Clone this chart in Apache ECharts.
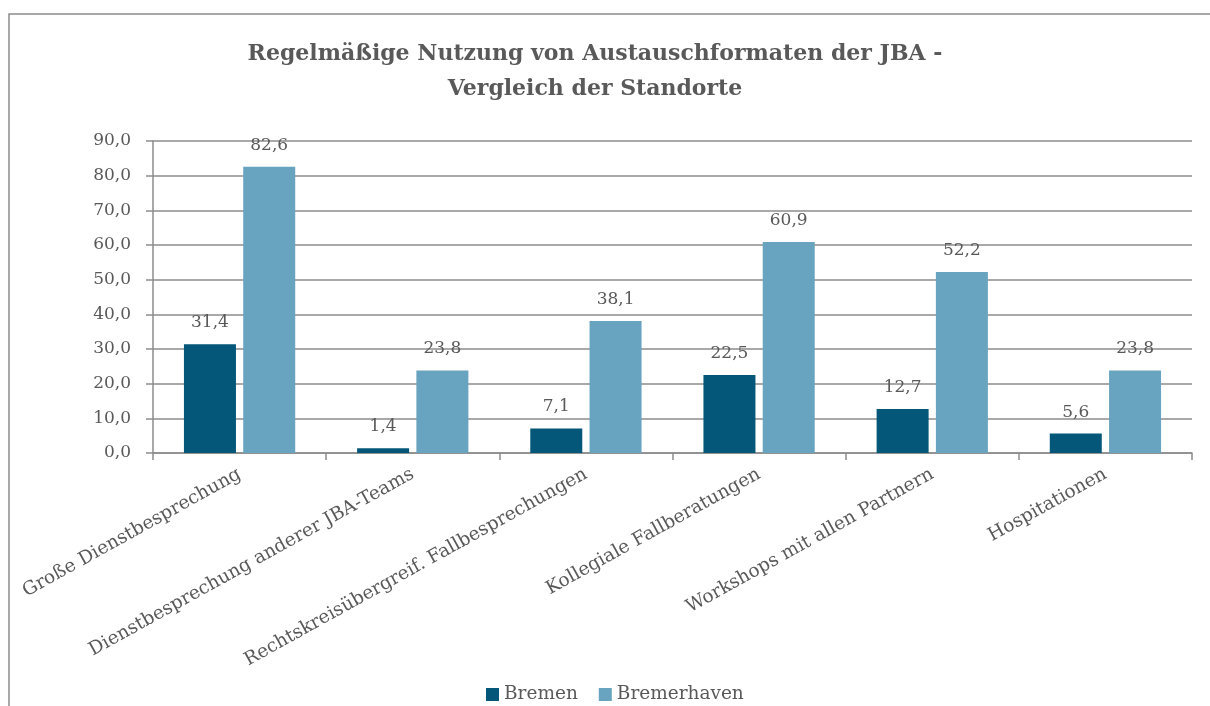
<!DOCTYPE html>
<html>
<head>
<meta charset="utf-8">
<script src="https://cdn.jsdelivr.net/npm/echarts@6/dist/echarts.min.js"></script>
<style>
  html, body { margin: 0; padding: 0; background: #fff; }
  #chart { width: 1210px; height: 706px; }
</style>
</head>
<body>
<div id="chart"></div>
<script>
// Daten
const categories = [
  'Große Dienstbesprechung',
  'Dienstbesprechung anderer JBA-Teams',
  'Rechtskreisübergreif. Fallbesprechungen',
  'Kollegiale Fallberatungen',
  'Workshops mit allen Partnern',
  'Hospitationen'
]
const bremen = [31.4, 1.4, 7.1, 22.5, 12.7, 5.6]
const bremerhaven = [82.6, 23.8, 38.1, 60.9, 52.2, 23.8]
const seriesNames = ['Bremen', 'Bremerhaven']

const FONT = 'DejaVu Serif'
const TEXT = '#595959'
const LINE = '#8c8c8c'

const fmt = v => v.toFixed(1).replace('.', ',')

const chart = echarts.init(document.getElementById('chart'))

function barSeries (name, data, color) {
  return {
    name: name,
    type: 'bar',
    data: data,
    barWidth: 52,
    barGap: '14%',
    itemStyle: { color: color },
    label: {
      show: true,
      position: 'top',
      distance: 13,
      color: TEXT,
      fontFamily: FONT,
      fontSize: 17,
      formatter: p => fmt(p.value)
    }
  }
}

chart.setOption({
  backgroundColor: '#fff',
  animation: false,
  title: {
    text: 'Regelmäßige Nutzung von Austauschformaten der JBA -\nVergleich der Standorte',
    left: 590,
    top: 32,
    textAlign: 'center',
    textStyle: {
      color: TEXT,
      fontFamily: FONT,
      fontWeight: 'bold',
      fontSize: 22,
      lineHeight: 35
    }
  },
  graphic: [{
    type: 'rect',
    shape: { x: 9, y: 14, width: 1300, height: 800 },
    style: { fill: 'none', stroke: LINE, lineWidth: 1.5 },
    silent: true
  }],
  legend: {
    data: seriesNames,
    left: 481,
    top: 680,
    itemWidth: 13,
    itemHeight: 13,
    itemGap: 21,
    icon: 'rect',
    textStyle: { color: TEXT, fontFamily: FONT, fontSize: 18.5 }
  },
  grid: {
    left: 153,
    right: 18,
    top: 141,
    bottom: 253,
    containLabel: false
  },
  xAxis: {
    type: 'category',
    data: categories,
    axisLine: { lineStyle: { color: LINE, width: 1.5 } },
    axisTick: { show: true, length: 7, lineStyle: { color: LINE, width: 1.5 } },
    axisLabel: {
      interval: 0,
      rotate: 29,
      margin: 20,
      color: TEXT,
      fontFamily: FONT,
      fontSize: 18.5
    }
  },
  yAxis: {
    type: 'value',
    min: 0,
    max: 90,
    interval: 10,
    axisLine: { show: true, lineStyle: { color: LINE, width: 1.5 } },
    axisTick: { show: true, length: 7, lineStyle: { color: LINE, width: 1.5 } },
    splitLine: { lineStyle: { color: LINE, width: 1.5 } },
    axisLabel: {
      margin: 22,
      color: TEXT,
      fontFamily: FONT,
      fontSize: 17,
      formatter: v => fmt(v)
    }
  },
  series: [
    barSeries(seriesNames[0], bremen, '#045779'),
    barSeries(seriesNames[1], bremerhaven, '#68a3c0')
  ]
})
</script>
</body>
</html>
